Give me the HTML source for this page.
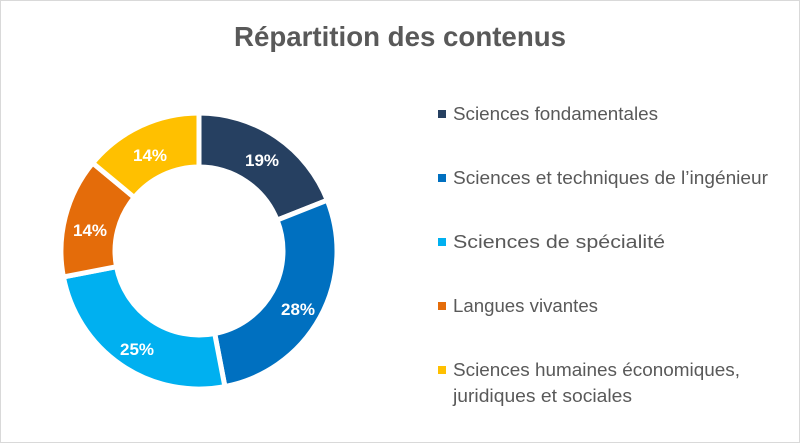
<!DOCTYPE html>
<html><head><meta charset="utf-8"><style>
html,body{margin:0;padding:0;background:#fff;}
svg{display:block;}
text{font-family:"Liberation Sans",sans-serif;}
</style></head><body>
<svg width="800" height="443" viewBox="0 0 800 443">
<rect x="0.5" y="0.5" width="799" height="442" fill="#fff" stroke="#d9d9d9"/>
<text x="400" y="46" text-anchor="middle" font-size="28" font-weight="bold" fill="#595959" textLength="332" lengthAdjust="spacingAndGlyphs">Répartition des contenus</text>
<g stroke="#fff" stroke-width="5" stroke-linejoin="miter">
<path d="M199,113 A138,138 0 0 1 327.3,200.2 L277.1,220.1 A84,84 0 0 0 199,167 Z" fill="#264061"/>
<path d="M327.3,200.2 A138,138 0 0 1 224.9,386.6 L214.7,333.5 A84,84 0 0 0 277.1,220.1 Z" fill="#0070c0"/>
<path d="M224.9,386.6 A138,138 0 0 1 63.4,276.9 L116.5,266.7 A84,84 0 0 0 214.7,333.5 Z" fill="#00b0f0"/>
<path d="M63.4,276.9 A138,138 0 0 1 92.7,163.0 L134.3,197.5 A84,84 0 0 0 116.5,266.7 Z" fill="#e46c0a"/>
<path d="M92.7,163.0 A138,138 0 0 1 199,113 L199,167 A84,84 0 0 0 134.3,197.5 Z" fill="#ffc000"/>
</g>
<g fill="#fff" font-size="17" font-weight="bold" text-anchor="middle">
<text x="262" y="166">19%</text>
<text x="298" y="315">28%</text>
<text x="137" y="355">25%</text>
<text x="90" y="236">14%</text>
<text x="150" y="161">14%</text>
</g>
<g font-size="18" fill="#595959">
<rect x="438" y="110" width="8" height="8" fill="#264061"/>
<text x="453" y="120" textLength="205" lengthAdjust="spacingAndGlyphs">Sciences fondamentales</text>
<rect x="438" y="174" width="8" height="8" fill="#0070c0"/>
<text x="453" y="184" textLength="315" lengthAdjust="spacingAndGlyphs">Sciences et techniques de l’ingénieur</text>
<rect x="438" y="238" width="8" height="8" fill="#00b0f0"/>
<text x="453" y="248" textLength="212" lengthAdjust="spacingAndGlyphs">Sciences de spécialité</text>
<rect x="438" y="302" width="8" height="8" fill="#e46c0a"/>
<text x="453" y="312" textLength="145" lengthAdjust="spacingAndGlyphs">Langues vivantes</text>
<rect x="438" y="366" width="8" height="8" fill="#ffc000"/>
<text x="453" y="376" textLength="287" lengthAdjust="spacingAndGlyphs">Sciences humaines économiques,</text>
<text x="453" y="402" textLength="179" lengthAdjust="spacingAndGlyphs">juridiques et sociales</text>
</g>
</svg>
</body></html>
